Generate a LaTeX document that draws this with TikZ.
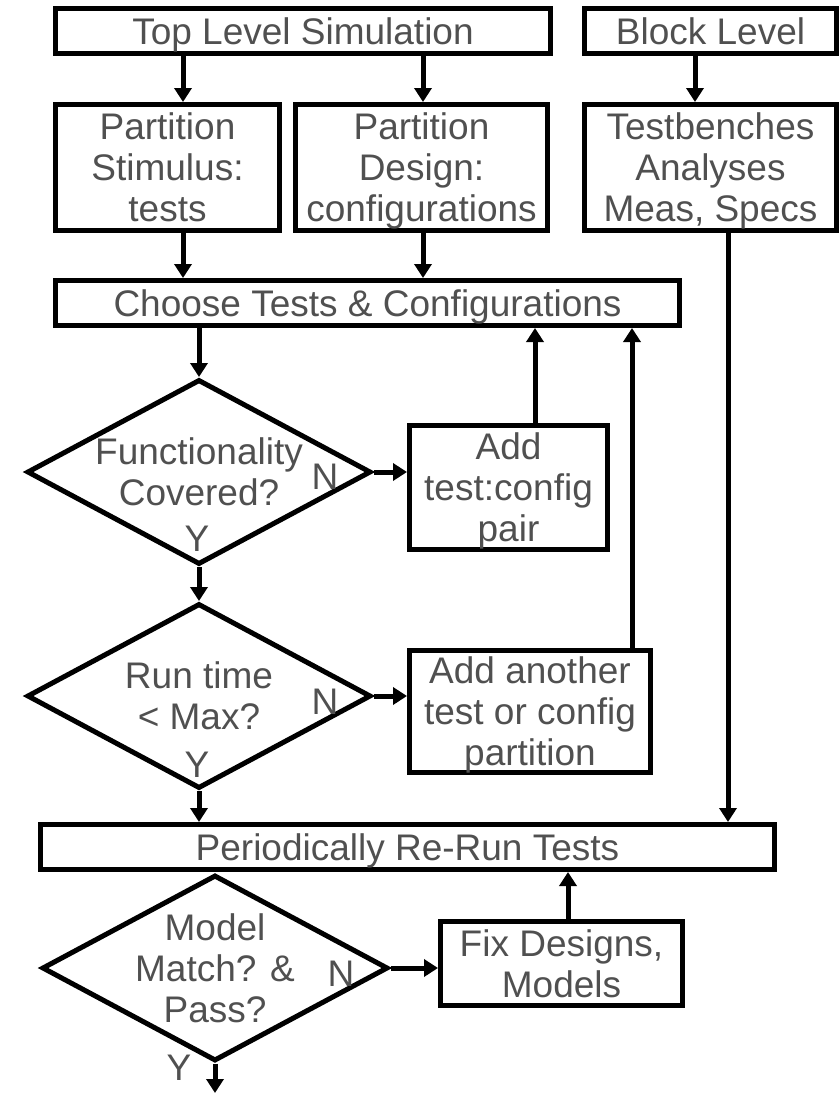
\documentclass[tikz,border=0pt]{standalone}
\usepackage{fontspec}
\setmainfont{Liberation Sans}
\usetikzlibrary{arrows.meta,shapes.geometric}
\definecolor{txtgrey}{HTML}{505050}

\begin{document}
\begin{tikzpicture}[x=1pt,y=-1pt,line width=5pt,
  font=\fontsize{37}{41}\selectfont,
  blk/.style={draw,rectangle,text=txtgrey,align=center,inner sep=0pt,text depth=0pt},
  dec/.style={draw,diamond,inner sep=0pt},
  lbl/.style={text=txtgrey,align=center,inner sep=0pt,text depth=0pt},
  arr/.style={-{Triangle[width=17pt,length=14pt]}}]
\useasboundingbox (0,0) rectangle (840,1093);

\node[blk,minimum width=495,minimum height=45] (top) at (303,31) {Top Level Simulation};
\node[blk,minimum width=252,minimum height=45] (block) at (710.5,31) {Block Level};

\node[blk,minimum width=224,minimum height=126] (stim) at (167.5,167.5) {Partition\\Stimulus:\\tests};
\node[blk,minimum width=252,minimum height=126] (design) at (421.5,167.5) {Partition\\Design:\\configurations};
\node[blk,minimum width=252,minimum height=126] (bench) at (710.5,167.5) {Testbenches\\Analyses\\Meas, Specs};

\node[blk,minimum width=624,minimum height=45] (choose) at (367.5,303) {Choose Tests \& Configurations};

\node[dec,minimum width=344,minimum height=185] (cover) at (199,472) {};
\node[lbl] (covertxt) at (cover) {Functionality\\Covered?};
\node[lbl] (coverN) at (325,476.5) {N};
\node[lbl] (coverY) at (197,539) {Y};
\node[blk,minimum width=198,minimum height=124] (addpair) at (508.5,487.5) {Add\\test:config\\pair};

\node[dec,minimum width=344,minimum height=185] (runtime) at (199,696) {};
\node[lbl] (runtimetxt) at (runtime) {Run time\\< Max?};
\node[lbl] (runN) at (325,701.5) {N};
\node[lbl] (runY) at (197,764.5) {Y};
\node[blk,minimum width=241,minimum height=122] (addpart) at (530,711.5) {Add another\\test or config\\partition};

\node[blk,minimum width=734,minimum height=45] (rerun) at (407.5,847) {Periodically Re-Run Tests};

\node[dec,minimum width=346,minimum height=186] (match) at (215,968) {};
\node[lbl] (matchtxt) at (match) {Model\\Match? \&\\Pass?};
\node[lbl] (matchN) at (341,973.5) {N};
\node[lbl] (matchY) at (179,1067.5) {Y};
\node[blk,minimum width=242,minimum height=84] (fix) at (561.5,963.5) {Fix Designs,\\Models};
\coordinate (done) at (215,1093);

\draw[arr] (top.south -| 183,0) -- (stim.north -| 183,0);
\draw[arr] (top.south -| 423,0) -- (design.north -| 423,0);
\draw[arr] (block.south -| 695,0) -- (bench.north -| 695,0);
\draw[arr] (stim.south -| 183,0) -- (choose.north -| 183,0);
\draw[arr] (design.south -| 423,0) -- (choose.north -| 423,0);
\draw[arr] (choose.south -| cover) -- (cover.north);
\draw[arr] (cover.east) -- (cover.east -| addpair.west);
\draw[arr] (addpair.north -| 535,0) -- (choose.south -| 535,0);
\draw[arr] (addpart.north -| 632,0) -- (choose.south -| 632,0);
\draw[arr] (cover.south) -- (runtime.north);
\draw[arr] (runtime.east) -- (runtime.east -| addpart.west);
\draw[arr] (runtime.south) -- (rerun.north -| runtime);
\draw[arr] (bench.south -| 728,0) -- (rerun.north -| 728,0);
\draw[arr] (match.east) -- (match.east -| fix.west);
\draw[arr] (fix.north -| 568,0) -- (rerun.south -| 568,0);
\draw[arr] (match.south) -- (done);
\end{tikzpicture}
\end{document}
